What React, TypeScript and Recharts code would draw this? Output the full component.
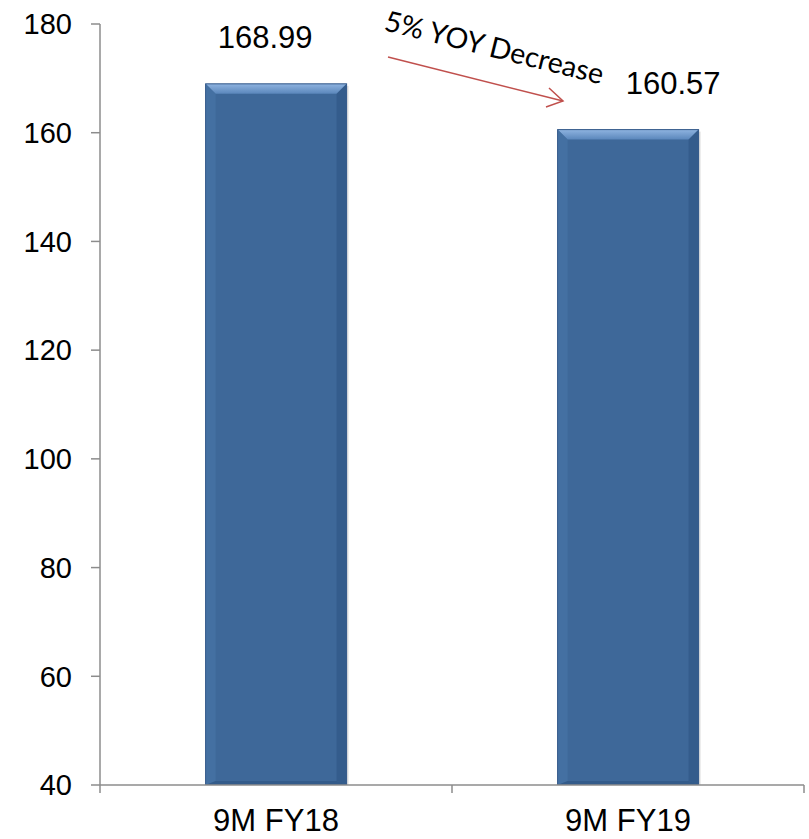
import React from 'react';
import { BarChart, Bar, XAxis, YAxis, LabelList } from 'recharts';

const categories = ['9M FY18', '9M FY19'];
const values = [168.99, 160.57];
const yTicks = [40, 60, 80, 100, 120, 140, 160, 180];
const labelOffsets = [-11, 45];

const data = categories.map((c, i) => ({ name: c, value: values[i] }));

const FONT = '"Liberation Sans", Arial, sans-serif';

const BevelBar = (props: any) => {
  const { x, y, width, height } = props;
  const b = 10;
  return (
    <g>
      <rect x={x + 2} y={y + 2} width={width} height={height} fill="#000" opacity={0.12} />
      <rect x={x} y={y} width={width} height={height} fill="#3e6899" />
      <polygon points={`${x},${y} ${x + width},${y} ${x + width - b},${y + b} ${x + b},${y + b}`} fill="url(#bevTop)" />
      <polygon points={`${x},${y} ${x + b},${y + b} ${x + b},${y + height - 4} ${x},${y + height}`} fill="#4a76a8" opacity={0.6} />
      <polygon points={`${x + width},${y} ${x + width - b},${y + b} ${x + width - b},${y + height - 4} ${x + width},${y + height}`} fill="#2f5583" opacity={0.6} />
      <polygon points={`${x},${y + height} ${x + width},${y + height} ${x + width - b},${y + height - 4} ${x + b},${y + height - 4}`} fill="#2f5583" opacity={0.7} />
      <rect x={x} y={y} width={width} height={height} fill="none" stroke="#34598a" strokeWidth={1} />
    </g>
  );
};

const renderLabel = (props: any) => {
  const { x, y, width, value, index } = props;
  return (
    <text
      x={x + width / 2 + labelOffsets[index]}
      y={y - 46}
      textAnchor="middle"
      dominantBaseline="central"
      fontFamily={FONT}
      fontSize={31}
      fill="#000"
    >
      {value.toFixed(2)}
    </text>
  );
};

export default function App() {
  return (
    <div style={{ position: 'absolute', left: 0, top: 0, width: 809, height: 839, background: '#fff' }}>
      <BarChart
        width={809}
        height={839}
        data={data}
        margin={{ top: 24, right: 5, left: 0, bottom: 0 }}
        barCategoryGap="30%"
      >
        <defs>
          <linearGradient id="bevTop" x1="0" y1="0" x2="0" y2="1">
            <stop offset="0%" stopColor="#8fb4e0" />
            <stop offset="100%" stopColor="#5a86bb" />
          </linearGradient>
        </defs>
        <YAxis
          domain={[40, 180]}
          ticks={yTicks}
          width={100}
          tickSize={9}
          tickMargin={19}
          axisLine={{ stroke: '#8c8c8c', strokeWidth: 1.5 }}
          tickLine={{ stroke: '#8c8c8c', strokeWidth: 1.5 }}
          tick={{ fontFamily: FONT, fontSize: 29, fill: '#000' }}
          allowDataOverflow
        />
        <XAxis
          dataKey="name"
          height={54}
          tickSize={8}
          tickMargin={16}
          axisLine={{ stroke: '#8c8c8c', strokeWidth: 1.5 }}
          tickLine={false}
          tick={{ fontFamily: FONT, fontSize: 31, fill: '#000' }}
        />
        <Bar dataKey="value" isAnimationActive={false} shape={<BevelBar />}>
          <LabelList dataKey="value" content={renderLabel} />
        </Bar>
      </BarChart>
      <svg width={809} height={839} style={{ position: 'absolute', left: 0, top: 0, pointerEvents: 'none' }}>
        <line x1={452} y1={785} x2={452} y2={793} stroke="#8c8c8c" strokeWidth={1.5} />
        <line x1={804} y1={785} x2={804} y2={793} stroke="#8c8c8c" strokeWidth={1.5} />
        <line x1={100} y1={785} x2={100} y2={793} stroke="#8c8c8c" strokeWidth={1.5} />
        <line x1={388} y1={57} x2={563} y2={101} stroke="#c0504d" strokeWidth={1.5} />
        <polyline points="549,88 563,101 546,107" fill="none" stroke="#c0504d" strokeWidth={1.5} />
        <text
          x={383}
          y={30}
          transform="rotate(14 383 30)"
          fontFamily="Lato, 'Open Sans', sans-serif"
          fontSize={28.5}
          fill="#000"
        >
          5% YOY Decrease
        </text>
      </svg>
    </div>
  );
}
